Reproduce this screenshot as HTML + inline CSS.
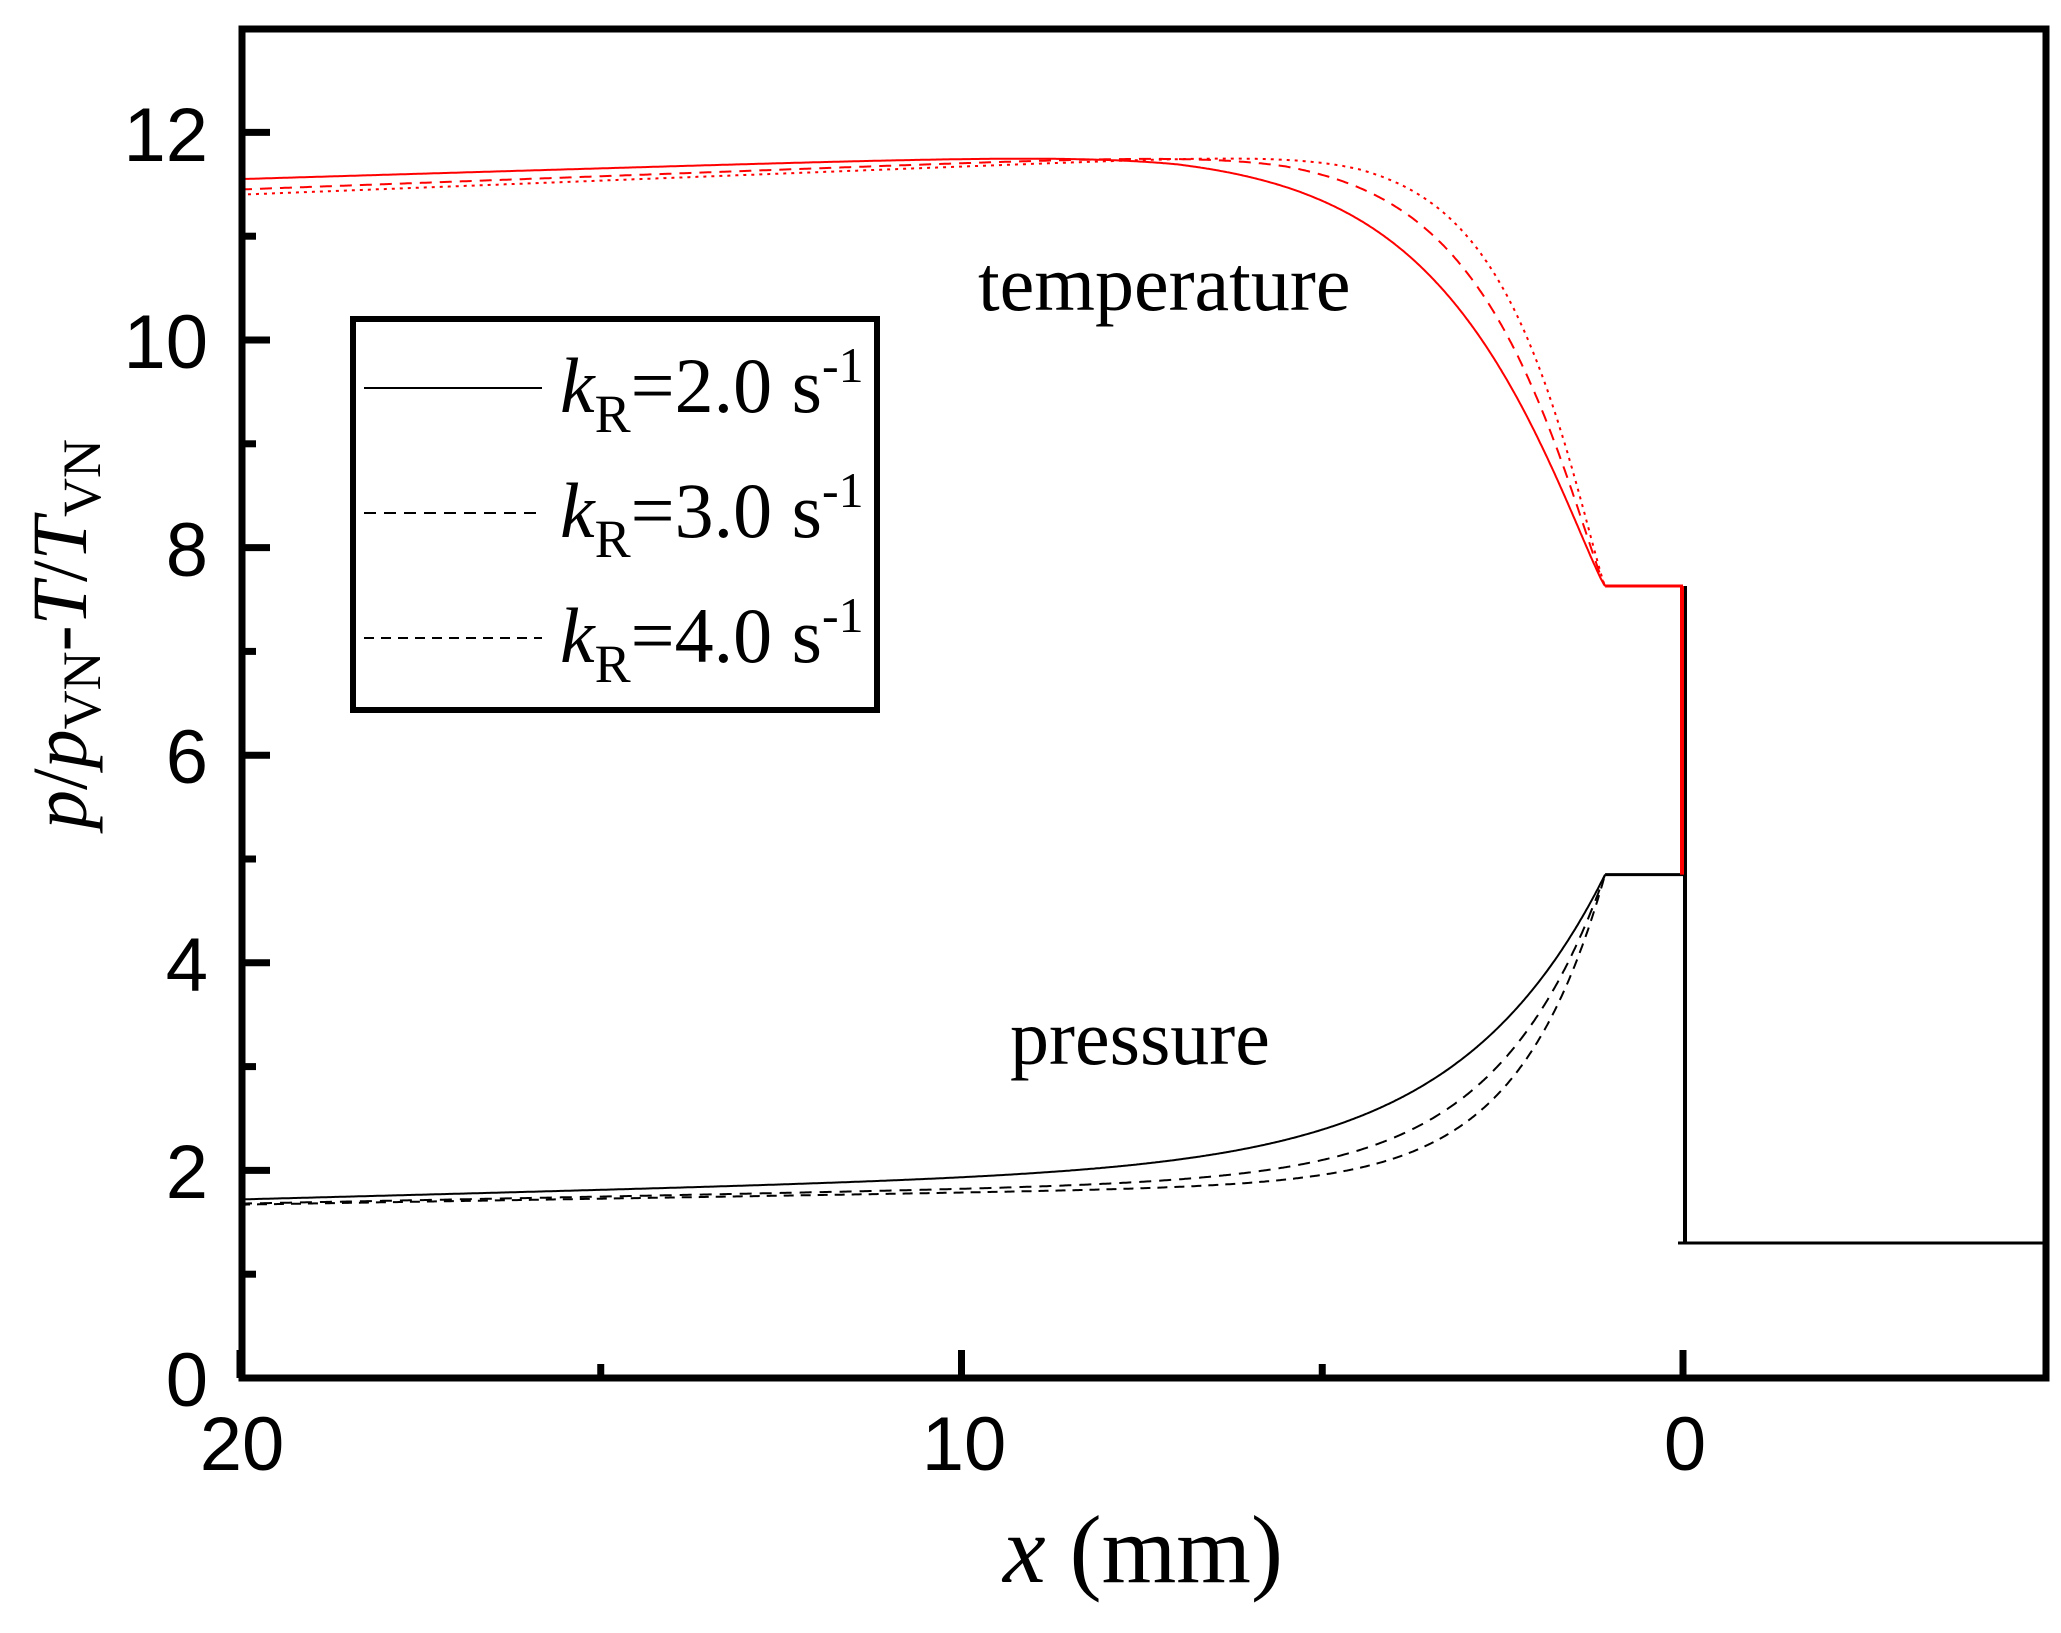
<!DOCTYPE html>
<html><head><meta charset="utf-8"><style>
html,body{margin:0;padding:0;background:#fff;width:2061px;height:1633px;overflow:hidden}
svg{display:block}
.tk{font-family:"Liberation Sans",Arial,sans-serif;font-size:76px;fill:#000}
.sf{font-family:"Liberation Serif","Times New Roman",serif;fill:#000}
</style></head><body>
<svg id="s" width="2061" height="1633" viewBox="0 0 2061 1633" xmlns="http://www.w3.org/2000/svg">
<g id="curves" fill="none"></g>
<rect x="242" y="29" width="1804" height="1349" fill="none" stroke="#000" stroke-width="7"/>
<g id="ticks" stroke="#000" stroke-width="7"></g>
<g class="tk" text-anchor="end">
<text x="208" y="1406">0</text><text x="208" y="1198">2</text><text x="208" y="991">4</text>
<text x="208" y="783">6</text><text x="208" y="576">8</text><text x="208" y="368">10</text><text x="208" y="161">12</text>
</g>
<g class="tk" text-anchor="middle">
<text x="242" y="1470">20</text><text x="964" y="1470">10</text><text x="1685" y="1470">0</text>
</g>
<text class="sf" x="1143" y="1582" text-anchor="middle" font-size="96"><tspan font-style="italic">x</tspan> (mm)</text>
<text class="sf" transform="translate(86,634) rotate(-90)" text-anchor="middle" font-size="78"><tspan font-style="italic">p</tspan>/<tspan font-style="italic">p</tspan><tspan font-size="54" dy="14">VN</tspan><tspan dy="-14">-</tspan><tspan font-style="italic">T</tspan>/<tspan font-style="italic">T</tspan><tspan font-size="54" dy="14">VN</tspan></text>
<text class="sf" x="978" y="310" font-size="78">temperature</text>
<text class="sf" x="1010" y="1064" font-size="78">pressure</text>
<rect x="353" y="319" width="524" height="391" fill="#fff" stroke="#000" stroke-width="6"/>
<line x1="364" y1="388" x2="542" y2="388" stroke="#000" stroke-width="2"/>
<line x1="364" y1="513" x2="542" y2="513" stroke="#000" stroke-width="2" stroke-dasharray="12,8"/>
<line x1="364" y1="638" x2="542" y2="638" stroke="#000" stroke-width="2" stroke-dasharray="10,7"/>
<g class="sf" font-size="78">
<text x="560" y="412"><tspan font-style="italic">k</tspan><tspan font-size="54" dy="20">R</tspan><tspan dy="-20">=2.0 s</tspan><tspan font-size="50" dy="-30">-1</tspan></text>
<text x="560" y="537"><tspan font-style="italic">k</tspan><tspan font-size="54" dy="20">R</tspan><tspan dy="-20">=3.0 s</tspan><tspan font-size="50" dy="-30">-1</tspan></text>
<text x="560" y="662"><tspan font-style="italic">k</tspan><tspan font-size="54" dy="20">R</tspan><tspan dy="-20">=4.0 s</tspan><tspan font-size="50" dy="-30">-1</tspan></text>
</g>
</svg>
<script>
var X0=1683, PX=72.15, Y0=1378, PY=103.8;
function sx(x){return X0-x*PX} function sy(v){return Y0-v*PY}
var ns="http://www.w3.org/2000/svg";
var t=document.getElementById('ticks');
function ln(g,x1,y1,x2,y2,c,w,da){var l=document.createElementNS(ns,'line');l.setAttribute('x1',x1);l.setAttribute('y1',y1);l.setAttribute('x2',x2);l.setAttribute('y2',y2);if(c)l.setAttribute('stroke',c);if(w)l.setAttribute('stroke-width',w);if(da)l.setAttribute('stroke-dasharray',da);g.appendChild(l);}
for(var v=1;v<=12;v++){ln(t,242,sy(v),v%2?256:270,sy(v));}
[20,15,10,5,0].forEach(function(x){ln(t,sx(x),1378,sx(x),x%10?1364:1350);});
var g=document.getElementById('curves');
function path(fn,col,da){var d='';for(var x=20;x>=1.08;x-=0.02){d+=(d?'L':'M')+sx(x).toFixed(1)+','+sy(fn(x)).toFixed(1);}
var p=document.createElementNS(ns,'path');p.setAttribute('d',d);p.setAttribute('stroke',col);p.setAttribute('stroke-width',2);if(da)p.setAttribute('stroke-dasharray',da);g.appendChild(p);}
var PK=11.82;
function T(L,b,pk){return function(x){var d=x-1.08;var far=x>pk?PK-(PK-b)*(x-pk)/(20-pk):PK;return far-(far-7.63)*Math.exp(-Math.pow(d/L,1.15));};}
function P(L,a,s){return function(x){var d=x-1.08;var far=a-s*x;return far+(4.85-far)*Math.exp(-d/L);};}
path(T(2.0,11.55,7),'#f00');
path(T(1.55,11.45,5.5),'#f00','12,8');
path(T(1.25,11.4,4.5),'#f00','3,5');
path(P(2.0,2.08,0.018),'#000');
path(P(1.5,1.95,0.0135),'#000','12,8');
path(P(1.2,1.9,0.0115),'#000','10,7');
ln(g,sx(1.08),sy(7.63),X0,sy(7.63),'#f00',3);
ln(g,sx(1.08),sy(4.85),X0,sy(4.85),'#000',3);
ln(g,X0+2,sy(7.63),X0+2,sy(1.3),'#000',4);
ln(g,X0-1,sy(7.63),X0-1,sy(4.85),'#f00',4);
ln(g,X0-5,sy(1.3),2046,sy(1.3),'#000',3);
</script>
</body></html>
